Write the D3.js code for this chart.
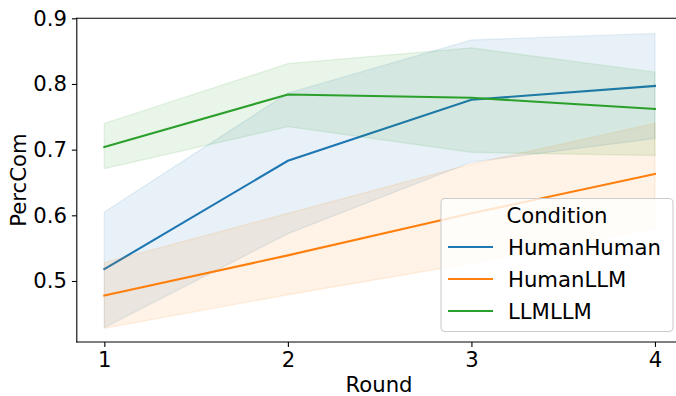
<!DOCTYPE html>
<html>
<head>
<meta charset="utf-8">
<script src="https://cdn.jsdelivr.net/npm/d3@7"></script>
<style>
  html, body { margin: 0; padding: 0; background: #fff; }
  svg { display: block; }
  text { font-family: "DejaVu Sans", sans-serif; fill: #000; }
</style>
</head>
<body>
<svg id="chart" width="676" height="396"></svg>
<script>
// ---- data ----
const rounds = [1, 2, 3, 4];
const conditions = ["HumanHuman", "HumanLLM", "LLMLLM"];
const colors = ["#1f77b4", "#ff7f0e", "#2ca02c"];

const meanHumanHuman = [0.518, 0.683, 0.776, 0.797];
const lowHumanHuman  = [0.429, 0.572, 0.681, 0.717];
const highHumanHuman = [0.605, 0.786, 0.867, 0.877];

const meanHumanLLM = [0.478, 0.539, 0.603, 0.663];
const lowHumanLLM  = [0.428, 0.479, 0.527, 0.580];
const highHumanLLM = [0.528, 0.603, 0.678, 0.740];

const meanLLMLLM = [0.704, 0.784, 0.779, 0.762];
const lowLLMLLM  = [0.671, 0.735, 0.696, 0.691];
const highLLMLLM = [0.740, 0.831, 0.855, 0.818];

const yTicks = [0.5, 0.6, 0.7, 0.8, 0.9];
const xTicks = [1, 2, 3, 4];

const seriesMean = [meanHumanHuman, meanHumanLLM, meanLLMLLM];
const seriesLow = [lowHumanHuman, lowHumanLLM, lowLLMLLM];
const seriesHigh = [highHumanHuman, highHumanLLM, highLLMLLM];

// ---- layout ----
const svg = d3.select("#chart");
const plotLeft = 76.8, plotRight = 682.5, plotTop = 18.3, plotBottom = 342;
const fontSize = 21.2;

const x = d3.scaleLinear().domain([0.85, 4.15]).range([plotLeft, plotRight]);
const y = d3.scaleLinear().domain([0.4071, 0.9]).range([plotBottom, plotTop]);

svg.append("defs").append("clipPath").attr("id", "clip")
  .append("rect").attr("x", plotLeft).attr("y", plotTop)
  .attr("width", plotRight - plotLeft).attr("height", plotBottom - plotTop);

const plot = svg.append("g").attr("clip-path", "url(#clip)");

const line = d3.line().x((d, i) => x(rounds[i])).y(d => y(d));

conditions.forEach((c, k) => {
  const pts = rounds.map((r, i) => i);
  plot.append("path")
    .attr("d", line(seriesMean[k]))
    .attr("fill", "none")
    .attr("stroke", colors[k])
    .attr("stroke-width", 2.1)
    .attr("stroke-linecap", "square");
  const area = d3.area()
    .x(i => x(rounds[i]))
    .y0(i => y(seriesLow[k][i]))
    .y1(i => y(seriesHigh[k][i]));
  plot.append("path")
    .attr("d", area(pts))
    .attr("fill", colors[k])
    .attr("fill-opacity", 0.1)
    .attr("stroke", colors[k])
    .attr("stroke-opacity", 0.1)
    .attr("stroke-width", 1.4);
});

// ---- axes ----
const xAxis = d3.axisBottom(x).tickValues(xTicks).tickFormat(d3.format("d"))
  .tickSize(4.9).tickPadding(4.9);
const yAxis = d3.axisLeft(y).tickValues(yTicks).tickFormat(d3.format(".1f"))
  .tickSize(4.9).tickPadding(4.9);

const gx = svg.append("g").attr("transform", `translate(0,${plotBottom})`).call(xAxis);
const gy = svg.append("g").attr("transform", `translate(${plotLeft},0)`).call(yAxis);
[gx, gy].forEach(g => {
  g.select(".domain").remove();
  g.selectAll(".tick line").attr("stroke", "#000").attr("stroke-width", 1.1);
  g.selectAll(".tick text").attr("font-size", fontSize).attr("font-family", "DejaVu Sans").attr("fill", "#000");
});

// spines
svg.append("line").attr("x1", plotLeft).attr("x2", plotLeft).attr("y1", plotTop).attr("y2", plotBottom)
  .attr("stroke", "#000").attr("stroke-width", 1.1).attr("stroke-linecap", "square");
svg.append("line").attr("x1", plotLeft).attr("x2", plotRight).attr("y1", plotBottom).attr("y2", plotBottom)
  .attr("stroke", "#000").attr("stroke-width", 1.1).attr("stroke-linecap", "square");
svg.append("line").attr("x1", plotLeft).attr("x2", plotRight).attr("y1", plotTop).attr("y2", plotTop)
  .attr("stroke", "#000").attr("stroke-width", 1.1).attr("stroke-linecap", "square");
svg.append("line").attr("x1", plotRight).attr("x2", plotRight).attr("y1", plotTop).attr("y2", plotBottom)
  .attr("stroke", "#000").attr("stroke-width", 1.1);

// axis labels
svg.append("text").attr("x", 379).attr("y", 392)
  .attr("text-anchor", "middle").attr("font-size", fontSize).text("Round");
svg.append("text")
  .attr("transform", `translate(26,${(plotTop + plotBottom) / 2}) rotate(-90)`)
  .attr("text-anchor", "middle").attr("font-size", fontSize).text("PercCom");

// ---- legend ----
const lg = svg.append("g");
lg.append("rect").attr("x", 441).attr("y", 198.5).attr("width", 232).attr("height", 133)
  .attr("rx", 4).attr("ry", 4)
  .attr("fill", "#fff").attr("fill-opacity", 0.8)
  .attr("stroke", "#cccccc").attr("stroke-width", 1.1);
lg.append("text").attr("x", 557).attr("y", 223.3).attr("text-anchor", "middle")
  .attr("font-size", fontSize).text("Condition");
conditions.forEach((c, k) => {
  const yy = 247 + k * 32;
  lg.append("line").attr("x1", 448).attr("x2", 493).attr("y1", yy).attr("y2", yy)
    .attr("stroke", colors[k]).attr("stroke-width", 2.1);
  lg.append("text").attr("x", 508).attr("y", yy + 8).attr("font-size", fontSize).text(c);
});
</script>
</body>
</html>
